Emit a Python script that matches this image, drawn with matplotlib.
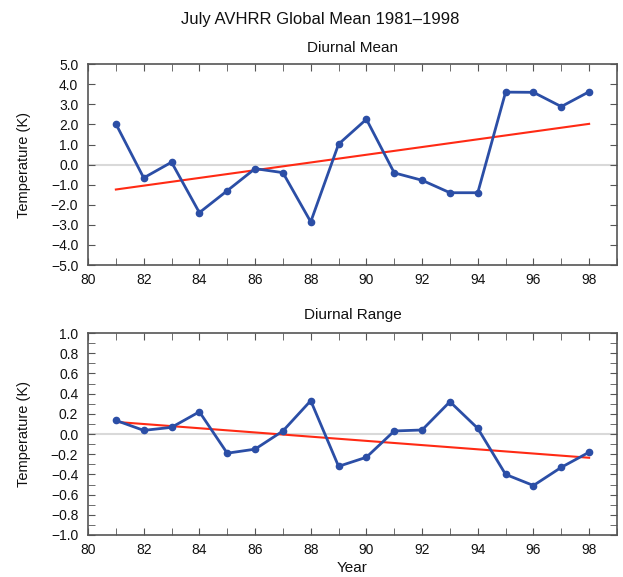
"""
July AVHRR global mean temperature anomalies, 1981-1998
"""

import matplotlib
matplotlib.use("Agg")
import matplotlib.pyplot as plt
from matplotlib.ticker import MultipleLocator

plt.rcParams["font.family"] = ["Liberation Sans", "DejaVu Sans"]

years = [81, 82, 83, 84, 85, 86, 87, 88, 89, 90, 91, 92, 93, 94, 95, 96, 97, 98]
diurnal_mean = [2.03, -0.66, 0.12, -2.39, -1.30, -0.20, -0.40, -2.85, 1.02,
                2.26, -0.41, -0.78, -1.40, -1.40, 3.61, 3.60, 2.89, 3.63]
diurnal_range = [0.135, 0.036, 0.066, 0.22, -0.19, -0.15, 0.03, 0.33, -0.32,
                 -0.23, 0.03, 0.04, 0.32, 0.056, -0.40, -0.51, -0.33, -0.18]

# trend lines (end points at 1981 and 1998)
trend_years = [81, 98]
mean_trend = [-1.24, 2.03]
range_trend = [0.12, -0.235]

blue = "#2b4ea6"
red = "#ff2a14"
spine = "#555555"
ink = "#111111"

fig = plt.figure(figsize=(6.23, 5.77), dpi=100)
ax1 = fig.add_axes([0.1413, 0.5407, 0.849, 0.348])
ax2 = fig.add_axes([0.1413, 0.0728, 0.849, 0.350])

fig.text(0.514, 0.958, "July AVHRR Global Mean 1981\u20131998", ha="center",
         va="baseline", fontsize=12, color=ink)


def style(ax, ylim, ymajor, yminor):
    ax.set_xlim(80, 99)
    ax.set_ylim(*ylim)
    ax.xaxis.set_minor_locator(MultipleLocator(1))
    ax.yaxis.set_major_locator(MultipleLocator(ymajor))
    ax.yaxis.set_minor_locator(MultipleLocator(yminor))
    ax.yaxis.set_major_formatter("{x:.1f}")
    ax.set_xticks(range(80, 99, 2))
    ax.tick_params(which="both", direction="in", top=True, right=True,
                   color=spine, labelsize=10, labelcolor=ink, length=5)
    ax.tick_params(axis="x", pad=6)
    ax.tick_params(axis="y", pad=7)
    for s in ax.spines.values():
        s.set_color(spine)
        s.set_linewidth(1.2)
    ax.set_ylabel("Temperature (K)", fontsize=10.5, color=ink, labelpad=14)
    ax.axhline(0, color="#d9d9d9", lw=1.5, zorder=1)


style(ax1, (-5, 5), 1.0, 1.0)
ax1.plot(trend_years, mean_trend, color=red, lw=1.5, zorder=2)
ax1.plot(years, diurnal_mean, color=blue, lw=2, marker="o", ms=4.5, zorder=3)
ax1.set_title("Diurnal Mean", fontsize=11, color=ink, pad=9)

style(ax2, (-1, 1), 0.2, 0.1)
ax2.plot(trend_years, range_trend, color=red, lw=1.5, zorder=2)
ax2.plot(years, diurnal_range, color=blue, lw=2, marker="o", ms=4.5, zorder=3)
ax2.set_title("Diurnal Range", fontsize=11, color=ink, pad=10)
ax2.set_xlabel("Year", fontsize=11, color=ink, labelpad=3)

fig.savefig("out.png", dpi=100)
